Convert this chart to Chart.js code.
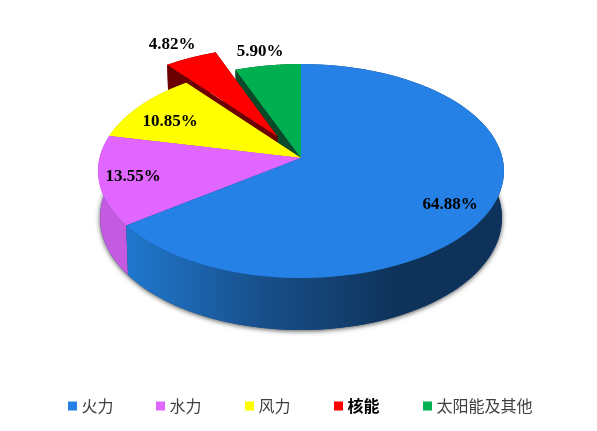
<!DOCTYPE html>
<html>
<head>
<meta charset="utf-8">
<style>
  html, body { margin: 0; padding: 0; background: #fff; }
  canvas { display: block; }
</style>
<script src="https://cdn.jsdelivr.net/npm/chart.js@4"></script>
</head>
<body>
<canvas id="pie" width="597" height="431"></canvas>
<script>
var categories = ["火力", "水力", "风力", "核能", "太阳能及其他"];
var shares = [64.88, 13.55, 10.85, 4.82, 5.90];
var explode = [0, 0, 0, 34, 0];

var topColors = ["#2681e6", "#e066ff", "#ffff00", "#ff0000", "#00b050"];
var wallColors = ["#184f8a", "#c45adf", "#b3b300", "#6b0000", "#0a4a28"];

// label centres and legend columns, in page pixels
var labelSpots = [[450, 205], [133, 177], [170, 122], [172, 45], [260, 52]];
var legendX = [68, 156, 245, 334, 423];
var legendY = 406;

// the disc is seen at an angle, so the near half is bigger than the far half
var radiusX = 201.5, radiusY = 105.4, tilt = 0.1215;

function project(cx, cy, u, v, du, dv, low)
{
  var pu = u + du, pv = v + dv;
  var w = 1 - tilt * pv;
  var x = radiusX * pu / w, y = radiusY * pv / w;
  if (low) {
    x *= 0.99;
    y += 46 + 6 * pv;
  }
  return [cx + x, cy + y];
}

function rimPoints(arc, du, dv, low)
{
  var pts = [], steps = 80;
  for (var i = 0; i <= steps; i++) {
    var a = arc.startAngle + (arc.endAngle - arc.startAngle) * i / steps;
    pts.push(project(arc.x, arc.y, Math.cos(a), Math.sin(a), du, dv, low));
  }
  return pts;
}

function fillPoly(ctx, pts, color)
{
  ctx.beginPath();
  pts.forEach(function(p, i) {
    if (i == 0) ctx.moveTo(p[0], p[1]); else ctx.lineTo(p[0], p[1]);
  });
  ctx.closePath();
  ctx.fillStyle = color;
  ctx.fill();
}

function drawSlice(ctx, arc, i)
{
  var mid = (arc.startAngle + arc.endAngle) / 2;
  var d = explode[i] / arc.outerRadius;
  var du = Math.cos(mid) * d, dv = Math.sin(mid) * d;
  var top = rimPoints(arc, du, dv, false);
  var low = rimPoints(arc, du, dv, true);
  var apexTop = project(arc.x, arc.y, 0, 0, du, dv, false);
  var apexLow = project(arc.x, arc.y, 0, 0, du, dv, true);

  // radial walls
  fillPoly(ctx, [apexTop, top[0], low[0], apexLow], wallColors[i]);
  fillPoly(ctx, [apexTop, top[top.length - 1], low[low.length - 1], apexLow], wallColors[i]);

  // outer wall, blue one gets the dark shading to the right
  var wall = wallColors[i];
  if (i == 0) {
    wall = ctx.createLinearGradient(127, 0, 400, 0);
    wall.addColorStop(0, "#2078ce");
    wall.addColorStop(0.5, "#184f8a");
    wall.addColorStop(1, "#0e3259");
  }
  fillPoly(ctx, top.concat(low.slice().reverse()), wall);

  fillPoly(ctx, [apexTop].concat(top), topColors[i]);
}

var pie3d = {
  id: "pie3d",
  beforeDatasetsDraw: function(chart) {
    var ctx = chart.ctx;
    var arcs = chart.getDatasetMeta(0).data;
    var order = [4, 3, 2, 1, 0];

    // soft shadow under the base
    ctx.save();
    ctx.shadowColor = "rgba(0,0,0,0.7)";
    ctx.shadowBlur = 5;
    ctx.shadowOffsetY = 1;
    var base = [];
    for (var n = 0; n <= 180; n++) {
      var a = n / 180 * Math.PI * 2;
      base.push(project(arcs[0].x, arcs[0].y, Math.cos(a), Math.sin(a), 0, 0, true));
    }
    fillPoly(ctx, base, "#184f8a");
    ctx.restore();

    order.forEach(function(i) {
      drawSlice(ctx, arcs[i], i);
    });
    return false;
  },
  afterDraw: function(chart) {
    var ctx = chart.ctx;
    ctx.save();

    // percent labels
    ctx.font = "bold 17px 'Liberation Serif'";
    ctx.textAlign = "center";
    ctx.textBaseline = "middle";
    ctx.fillStyle = "#000";
    shares.forEach(function(v, i) {
      ctx.fillText(v.toFixed(2) + "%", labelSpots[i][0], labelSpots[i][1]);
    });

    // legend, 核能 is bold in the original
    ctx.textAlign = "left";
    categories.forEach(function(name, i) {
      ctx.fillStyle = topColors[i];
      ctx.fillRect(legendX[i], legendY - 4.5, 9, 9);
      ctx.font = (i == 3 ? "bold " : "") + "16px 'Noto Sans CJK SC'";
      ctx.fillStyle = i == 3 ? "#000" : "#404040";
      ctx.fillText(name, legendX[i] + 13.5, legendY);
    });
    ctx.restore();
  }
};

var chart = new Chart(document.getElementById("pie"), {
  type: "pie",
  data: {
    labels: categories,
    datasets: [{
      data: shares,
      backgroundColor: topColors,
      offset: explode,
      borderWidth: 0
    }]
  },
  options: {
    responsive: false,
    animation: false,
    layout: { padding: { left: 5, bottom: 115 } },
    plugins: { legend: { display: false }, tooltip: { enabled: false } }
  },
  plugins: [pie3d]
});
</script>
</body>
</html>
